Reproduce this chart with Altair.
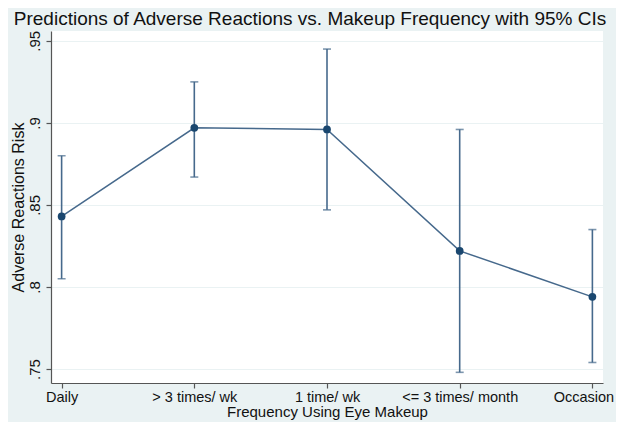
import altair as alt
import pandas as pd

categories = ["Daily", "> 3 times/ wk", "1 time/ wk", "<= 3 times/ month", "Occasion"]
predicted = [0.843, 0.897, 0.896, 0.822, 0.794]
ci_low = [0.805, 0.867, 0.847, 0.748, 0.754]
ci_high = [0.880, 0.925, 0.945, 0.896, 0.835]
y_ticks = [0.75, 0.80, 0.85, 0.90, 0.95]

df = pd.DataFrame({"cat": categories, "pred": predicted, "lo": ci_low, "hi": ci_high})

NAVY = "#1a476f"
LINE = "#46698c"
FONT = "Liberation Sans"

x_enc = alt.X(
    "cat:N",
    sort=categories,
    scale=alt.Scale(type="point", padding=0.08),
    axis=alt.Axis(
        title="Frequency Using Eye Makeup",
        labelAngle=0,
        labelFontSize=14.5,
        titleFontSize=15,
        labelPadding=2,
        titlePadding=1,
        tickSize=5,
        grid=False,
        labelOffset={"condition": {"test": "datum.value === 'Occasion'", "value": -9}, "value": 0},
    ),
)

y_scale = alt.Scale(domain=[0.7415, 0.956], nice=False, zero=False)
y_axis = alt.Axis(
    title="Adverse Reactions Risk",
    values=y_ticks,
    labelExpr="replace(format(datum.value, '.2~f'), /^0/, '')",
    labelAngle=270,
    labelAlign="center",
    labelBaseline="bottom",
    labelFontSize=15,
    labelPadding=4,
    titleFontSize=16,
    titlePadding=1,
    tickSize=5,
    grid=True,
    gridColor="#eaf2f3",
    gridWidth=1.2,
)

base = alt.Chart(df)

rules = base.mark_rule(color=LINE, strokeWidth=1.6).encode(
    x=x_enc, y=alt.Y("lo:Q", scale=y_scale, axis=y_axis), y2="hi:Q"
)
cap_lo = base.mark_tick(color=LINE, size=8, thickness=1.6, orient="horizontal").encode(
    x=alt.X("cat:N", sort=categories), y=alt.Y("lo:Q")
)
cap_hi = base.mark_tick(color=LINE, size=8, thickness=1.6, orient="horizontal").encode(
    x=alt.X("cat:N", sort=categories), y=alt.Y("hi:Q")
)
line = base.mark_line(color=LINE, strokeWidth=1.5).encode(
    x=alt.X("cat:N", sort=categories), y=alt.Y("pred:Q")
)
points = base.mark_point(filled=True, color=NAVY, size=60, opacity=1).encode(
    x=alt.X("cat:N", sort=categories), y=alt.Y("pred:Q")
)

chart = (
    alt.layer(rules, cap_lo, cap_hi, line, points)
    .properties(
        width=552,
        height=352,
        background="#eaf2f3",
        padding={"left": 43, "top": 23, "right": 13, "bottom": 39},
        autosize=alt.AutoSizeParams(type="none"),
        title=alt.Title(
            "Predictions of Adverse Reactions vs. Makeup Frequency with 95% CIs",
            fontSize=19,
            fontWeight="normal",
            font=FONT,
            color="#111111",
            anchor="middle",
            dx=-17,
            offset=1,
        ),
    )
    .configure_view(fill="white", stroke=None)
    .configure_axis(
        labelFont=FONT,
        titleFont=FONT,
        labelColor="#111111",
        titleColor="#111111",
        titleFontWeight="normal",
        domainColor="#555555",
        tickColor="#555555",
        domainWidth=1.2,
        tickWidth=1.2,
    )
)

chart.save("out.html", embed_options={"renderer": "svg", "actions": False})
